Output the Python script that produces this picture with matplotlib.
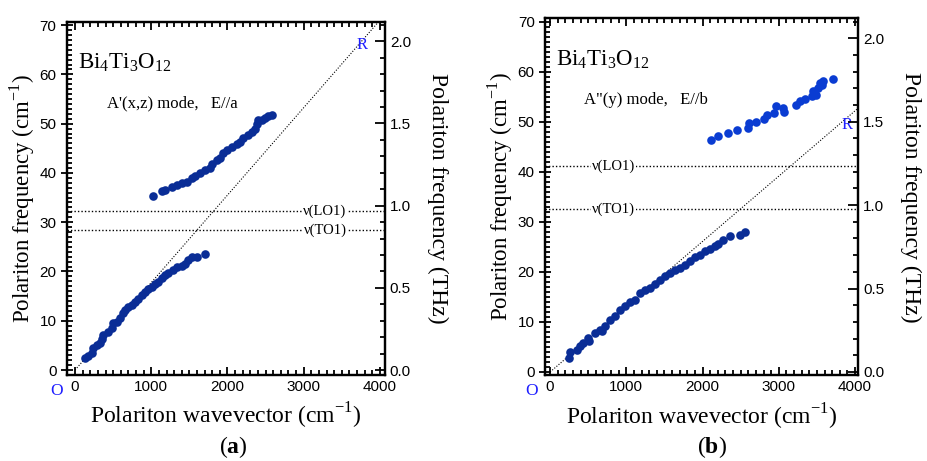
#!/usr/bin/env python3
"""
Polariton dispersion of Bi4Ti3O12, two panels (a) and (b)
"""

import numpy as np
import matplotlib
matplotlib.use("Agg")
import matplotlib.pyplot as plt
from matplotlib.ticker import MultipleLocator

plt.rcParams["font.family"] = ["Liberation Serif", "DejaVu Serif"]
plt.rcParams["mathtext.fontset"] = "custom"
plt.rcParams["mathtext.rm"] = "Liberation Serif"
plt.rcParams["mathtext.bf"] = "Liberation Serif:bold"

CM_PER_THZ = 33.356

# panel (a): A'(x,z) mode, E//a
a_low_k = [131, 175, 219, 240, 284, 328, 350, 372, 437, 481, 503, 547, 590, 634, 656, 700,
           743, 787, 831, 874, 918, 962, 1005, 1049, 1093, 1137, 1180, 1224, 1290, 1333,
           1399, 1443, 1486, 1530, 1596, 1705]
a_low_f = [2.4, 2.8, 3.4, 4.4, 5.1, 5.4, 6.4, 7.1, 7.8, 8.5, 9.5, 9.8, 10.5, 11.5, 12.2, 12.8,
           13.2, 13.9, 14.5, 15.2, 15.9, 16.4, 16.9, 17.4, 17.9, 18.6, 19.3, 19.6, 20.3, 21.0,
           21.1, 21.6, 22.3, 22.9, 23.0, 23.5]
a_up_k = [1027, 1137, 1180, 1268, 1333, 1399, 1464, 1530, 1574, 1639, 1705, 1770, 1792, 1858,
          1902, 1945, 1989, 2055, 2120, 2164, 2208, 2273, 2317, 2361, 2383, 2404, 2448, 2492,
          2535, 2587]
a_up_f = [35.3, 36.3, 36.5, 37.1, 37.5, 37.9, 38.2, 38.9, 39.4, 39.9, 40.6, 41.1, 41.9, 42.6,
          43.1, 44.1, 44.6, 45.2, 45.8, 46.3, 47.0, 47.7, 48.3, 49.0, 50.0, 50.7, 50.8, 51.2,
          51.5, 51.7]
a_lo1, a_to1 = 32.3, 28.4
a_light_end = (4000, 71.0)

# panel (b): A"(y) mode, E//b
b_low_k = [254, 262, 350, 393, 437, 503, 516, 590, 656, 678, 721, 787, 852, 918, 984, 1049,
           1115, 1180, 1246, 1311, 1377, 1443, 1508, 1574, 1639, 1705, 1770, 1836, 1902, 1967,
           2033, 2098, 2164, 2208, 2273, 2361, 2492, 2557]
b_low_f = [2.7, 3.9, 4.3, 5.2, 5.7, 6.7, 6.1, 7.7, 8.4, 8.1, 9.1, 10.4, 11.1, 12.4, 13.2, 13.9,
           14.3, 15.7, 16.4, 16.7, 17.6, 18.3, 19.1, 19.7, 20.3, 20.7, 21.4, 22.1, 22.9, 23.4,
           24.1, 24.5, 25.2, 25.6, 26.4, 27.2, 27.4, 27.9]
b_up_k = [2107, 2208, 2339, 2448, 2601, 2614, 2702, 2807, 2850, 2938, 2964, 3060, 3069, 3226,
          3279, 3344, 3432, 3445, 3489, 3519, 3541, 3563, 3576, 3708]
b_up_f = [46.4, 47.1, 47.7, 48.4, 48.7, 49.7, 49.9, 50.6, 51.4, 51.7, 53.1, 52.7, 51.9, 53.3,
          54.1, 54.6, 55.1, 56.2, 55.4, 56.7, 57.7, 57.3, 58.2, 58.6]
b_lo1, b_to1 = 41.2, 32.6
b_light_end = (4030, 52.6)

NAVY = "#0a2d96"
BLUE = "#0a3cd2"
TICKFONT = {"family": "Liberation Sans", "size": 11}


def draw_panel(fig, rect, xlim, ylim, low, up, up_color, lo1, to1, light_end,
               mode_text, nu_x, r_pos, o_pos, letter, letter_pos):
    ax = fig.add_axes(rect)
    ax.set_xlim(*xlim)
    ax.set_ylim(*ylim)

    # light line and phonon frequencies
    ax.plot([0, light_end[0]], [0, light_end[1]], color="black", ls=(0, (1, 1.5)), lw=0.8)
    for yv, name in [(lo1, "\u03bd(LO1)"), (to1, "\u03bd(TO1)")]:
        ax.axhline(yv, color="black", ls=(0, (1, 1.5)), lw=1.0)
        ax.text(nu_x, yv, name, fontsize=10.5, ha="center", va="center",
                bbox=dict(facecolor="white", edgecolor="none", pad=0.5))

    ax.plot(low[0], low[1], "o", color=NAVY, ms=6.2, mec="none")
    ax.plot(up[0], up[1], "o", color=up_color, ms=6.2, mec="none")

    ax.text(0.035, 0.885, r"Bi$_\mathregular{4}$Ti$_\mathregular{3}$O$_\mathregular{12}$",
            transform=ax.transAxes, fontsize=16.5, ha="left", va="center")
    ax.text(0.125, 0.77, mode_text, transform=ax.transAxes, fontsize=12, ha="left", va="center")
    ax.text(r_pos[0], r_pos[1], "R", color="#1f1fff", fontsize=12, ha="center", va="center")

    ax.xaxis.set_major_locator(MultipleLocator(1000))
    ax.xaxis.set_minor_locator(MultipleLocator(100))
    ax.yaxis.set_major_locator(MultipleLocator(10))
    ax.yaxis.set_minor_locator(MultipleLocator(1))
    ax.tick_params(which="both", direction="in", top=True, width=1.3)
    ax.tick_params(which="major", length=6)
    ax.tick_params(which="minor", length=3.5)
    ax.tick_params(axis="y", which="major", direction="inout", length=8)
    for lab in ax.get_xticklabels() + ax.get_yticklabels():
        lab.set_fontproperties(TICKFONT)
    for sp in ax.spines.values():
        sp.set_linewidth(1.6)

    ax.set_xlabel(r"Polariton wavevector (cm$^{\mathregular{-1}}$)", fontsize=17, labelpad=5)
    ax.set_ylabel(r"Polariton frequency (cm$^{\mathregular{-1}}$)", fontsize=16.5, labelpad=2)

    ax2 = ax.twinx()
    ax2.set_ylim(ylim[0] / CM_PER_THZ, ylim[1] / CM_PER_THZ)
    ax2.yaxis.set_major_locator(MultipleLocator(0.5))
    ax2.yaxis.set_minor_locator(MultipleLocator(0.1))
    ax2.yaxis.set_major_formatter(plt.FormatStrFormatter("%.1f"))
    ax2.tick_params(which="both", direction="in", width=1.3)
    ax2.tick_params(which="major", length=7)
    ax2.tick_params(which="minor", length=3.5)
    for lab in ax2.get_yticklabels():
        lab.set_fontproperties(TICKFONT)
    ax2.set_ylabel("Polariton frequency (THz)", fontsize=17, rotation=270, labelpad=27)
    for sp in ax2.spines.values():
        sp.set_linewidth(1.6)

    fig.text(o_pos[0], o_pos[1], "O", color="#1f1fff", fontsize=12.5, ha="center", va="center")
    fig.text(letter_pos[0], letter_pos[1], "($\\mathbf{" + letter + "}$)",
             fontsize=17, ha="center", va="center")
    return ax


fig = plt.figure(figsize=(9.27, 4.61), dpi=100)

draw_panel(fig, [0.0723, 0.1866, 0.343, 0.7654], (-105, 4066), (-1.0, 70.6),
           (a_low_k, a_low_f), (a_up_k, a_up_f), NAVY, a_lo1, a_to1, a_light_end,
           "A'(x,z) mode,   E//a", 3280, (3764, 65.9), (57 / 927, 1 - 391 / 461),
           "a", (233 / 927, 1 - 447 / 461))

draw_panel(fig, [0.588, 0.1855, 0.3376, 0.7748], (-66, 4039), (-0.7, 70.7),
           (b_low_k, b_low_f), (b_up_k, b_up_f), BLUE, b_lo1, b_to1, b_light_end,
           "A\"(y) mode,   E//b", 830, (3891, 49.4), (532 / 927, 1 - 391 / 461),
           "b", (712 / 927, 1 - 447 / 461))

fig.savefig("out.png", dpi=100)
plt.close(fig)
